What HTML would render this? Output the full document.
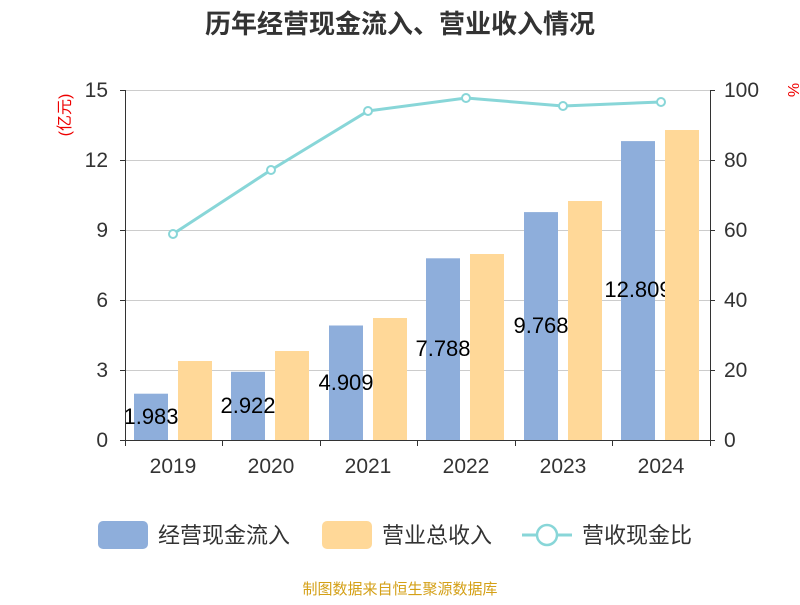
<!DOCTYPE html>
<html><head><meta charset="utf-8"><style>
body{margin:0;background:#fff;}
svg text{font-family:"Liberation Sans","Noto Sans CJK SC",sans-serif;}
</style></head><body>
<svg width="800" height="600" xmlns="http://www.w3.org/2000/svg">
<text x="400" y="33" text-anchor="middle" font-size="26" font-weight="bold" fill="#333">历年经营现金流入、营业收入情况</text>
<g stroke="#ccc" stroke-width="1">
<line x1="125" y1="90.5" x2="710" y2="90.5"/>
<line x1="125" y1="160.5" x2="710" y2="160.5"/>
<line x1="125" y1="230.5" x2="710" y2="230.5"/>
<line x1="125" y1="300.5" x2="710" y2="300.5"/>
<line x1="125" y1="370.5" x2="710" y2="370.5"/>
</g>
<g font-size="21" fill="#333" text-anchor="end">
<text x="108" y="97">15</text><text x="108" y="167">12</text><text x="108" y="237">9</text>
<text x="108" y="307">6</text><text x="108" y="377">3</text><text x="108" y="447">0</text>
</g>
<g font-size="21" fill="#333" text-anchor="start">
<text x="724" y="97">100</text><text x="724" y="167">80</text><text x="724" y="237">60</text>
<text x="724" y="307">40</text><text x="724" y="377">20</text><text x="724" y="447">0</text>
</g>
<text x="70" y="115" font-size="16" fill="#e00" text-anchor="middle" transform="rotate(-90 70 115)">(亿元)</text>
<text x="788" y="90" font-size="16" fill="#e00" text-anchor="middle" transform="rotate(90 788 90)">%</text>
<g fill="#8eaedb">
<rect x="134" y="393.7" width="34" height="46.3"/>
<rect x="231" y="371.8" width="34" height="68.2"/>
<rect x="329" y="325.5" width="34" height="114.5"/>
<rect x="426" y="258.3" width="34" height="181.7"/>
<rect x="524" y="212.1" width="34" height="227.9"/>
<rect x="621" y="141.1" width="34" height="298.9"/>
</g>
<g font-size="22" fill="#000" text-anchor="middle">
<text x="151" y="424">1.983</text>
<text x="248" y="413">2.922</text>
<text x="346" y="390">4.909</text>
<text x="443" y="356">7.788</text>
<text x="541" y="333">9.768</text>
<text x="638" y="297">12.809</text>
</g>
<g fill="#ffd898">
<rect x="178" y="361" width="34" height="79"/>
<rect x="275" y="351" width="34" height="89"/>
<rect x="373" y="318" width="34" height="122"/>
<rect x="470" y="254" width="34" height="186"/>
<rect x="568" y="201" width="34" height="239"/>
<rect x="665" y="130" width="34" height="310"/>
</g>
<line x1="125" y1="440.5" x2="710" y2="440.5" stroke="#333"/>
<line x1="125.5" y1="90" x2="125.5" y2="441" stroke="#333"/>
<line x1="710.5" y1="90" x2="710.5" y2="441" stroke="#333"/>
<g stroke="#333">
<line x1="120" y1="90.5" x2="125" y2="90.5"/><line x1="120" y1="160.5" x2="125" y2="160.5"/><line x1="120" y1="230.5" x2="125" y2="230.5"/><line x1="120" y1="300.5" x2="125" y2="300.5"/><line x1="120" y1="370.5" x2="125" y2="370.5"/><line x1="120" y1="440.5" x2="125" y2="440.5"/>
<line x1="710" y1="90.5" x2="715" y2="90.5"/><line x1="710" y1="160.5" x2="715" y2="160.5"/><line x1="710" y1="230.5" x2="715" y2="230.5"/><line x1="710" y1="300.5" x2="715" y2="300.5"/><line x1="710" y1="370.5" x2="715" y2="370.5"/><line x1="710" y1="440.5" x2="715" y2="440.5"/>
<line x1="125.5" y1="440" x2="125.5" y2="446"/><line x1="222.5" y1="440" x2="222.5" y2="446"/><line x1="320.5" y1="440" x2="320.5" y2="446"/><line x1="417.5" y1="440" x2="417.5" y2="446"/><line x1="515.5" y1="440" x2="515.5" y2="446"/><line x1="612.5" y1="440" x2="612.5" y2="446"/><line x1="710.5" y1="440" x2="710.5" y2="446"/>
</g>
<g font-size="21" fill="#333" text-anchor="middle">
<text x="173" y="473">2019</text><text x="271" y="473">2020</text><text x="368" y="473">2021</text>
<text x="466" y="473">2022</text><text x="563" y="473">2023</text><text x="661" y="473">2024</text>
</g>
<polyline points="173,234 271,170 368,111 466,98 563,106 661,102" fill="none" stroke="#88d6d8" stroke-width="3"/>
<g fill="#fff" stroke="#88d6d8" stroke-width="2">
<circle cx="173" cy="234" r="4"/><circle cx="271" cy="170" r="4"/><circle cx="368" cy="111" r="4"/>
<circle cx="466" cy="98" r="4"/><circle cx="563" cy="106" r="4"/><circle cx="661" cy="102" r="4"/>
</g>
<rect x="98" y="521" width="50" height="28" rx="5" fill="#8eaedb"/>
<text x="158" y="543" font-size="22" fill="#333">经营现金流入</text>
<rect x="322" y="521" width="50" height="28" rx="5" fill="#ffd898"/>
<text x="382" y="543" font-size="22" fill="#333">营业总收入</text>
<line x1="522" y1="535" x2="572" y2="535" stroke="#88d6d8" stroke-width="3"/>
<circle cx="547" cy="535" r="10" fill="#fff" stroke="#88d6d8" stroke-width="2.5"/>
<text x="582" y="543" font-size="22" fill="#333">营收现金比</text>
<text x="400" y="594" font-size="15" fill="#d4a017" text-anchor="middle">制图数据来自恒生聚源数据库</text>
</svg>
</body></html>
